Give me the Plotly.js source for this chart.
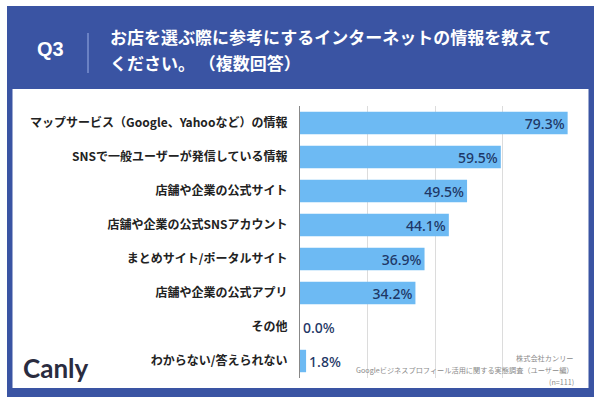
<!DOCTYPE html>
<html><head><meta charset="utf-8">
<script src="https://cdn.plot.ly/plotly-3.0.1.min.js"></script>
<style>html,body{margin:0;padding:0;background:#fff;}#c{width:600px;height:405px;}</style>
</head><body><div id="c"></div>
<script>
const categories = [
  "マップサービス（Google、Yahooなど）の情報",
  "SNSで一般ユーザーが発信している情報",
  "店舗や企業の公式サイト",
  "店舗や企業の公式SNSアカウント",
  "まとめサイト/ポータルサイト",
  "店舗や企業の公式アプリ",
  "その他",
  "わからない/答えられない"
];
const values = [79.3, 59.5, 49.5, 44.1, 36.9, 34.2, 0.0, 1.8];
const titleLines = ["お店を選ぶ際に参考にするインターネットの情報を教えて", "ください。 （複数回答）"];
const sourceLines = ["株式会社カンリー", "Googleビジネスプロフィール活用に関する実態調査（ユーザー編）", "(n=111)"];

const W = 600, H = 405;
const px = x => x / W;
const py = y => 1 - y / H;
const JP = "Noto Sans CJK JP, Noto Sans, sans-serif";
const navy = "#1e3766";

const trace = {
  type: "bar", orientation: "h",
  y: categories, x: values,
  marker: {color: "#6dbaf3", line: {width: 0}},
  texttemplate: "%{x:.1f}%",
  textposition: values.map(v => v < 5 ? "outside" : "inside"),
  insidetextanchor: "end",
  constraintext: "none",
  textfont: {family: "Noto Sans, Liberation Sans, sans-serif", size: 14, color: navy, weight: 500},
  cliponaxis: false,
  hoverinfo: "none",
  width: 0.66
};

function ann(text, x, y, xa, font) {
  return {text: text, x: px(x), y: py(y), xref: "paper", yref: "paper", xanchor: xa, yanchor: "middle",
          showarrow: false, font: font};
}

const annotations = [
  ann("<b>Q3</b>", 50, 49, "center", {family: "Liberation Sans, Arial, sans-serif", size: 20, color: "#fff", weight: 700}),
  ann(titleLines[0], 108, 36, "left", {family: JP, size: 17, color: "#fff", weight: 700}),
  ann(titleLines[1], 108, 62, "left", {family: JP, size: 17, color: "#fff", weight: 700}),
  ann("Canly", 21, 368, "left", {family: "Lato, Inter, sans-serif", size: 26, color: "#2a2c40", weight: 700})
];
sourceLines.forEach((t, i) => {
  annotations.push(ann(t, 576, 358 + i * 12, "right", {family: JP, size: 7.2, color: "#8a8a8a"}));
});

const shapes = [
  {type: "rect", xref: "paper", yref: "paper", x0: px(7), x1: px(594), y0: py(397), y1: py(6),
   fillcolor: "#3a54a3", line: {width: 0}, layer: "below"},
  {type: "rect", xref: "paper", yref: "paper", x0: px(12.5), x1: px(588.5), y0: py(388), y1: py(89),
   fillcolor: "#ffffff", line: {width: 0}, layer: "below"},
  {type: "line", xref: "paper", yref: "paper", x0: px(88), x1: px(88), y0: py(33), y1: py(73),
   line: {color: "#7b90cf", width: 1.5}, layer: "below"}
];

const layout = {
  width: W, height: H,
  margin: {l: 0, r: 0, t: 0, b: 0},
  paper_bgcolor: "#ffffff", plot_bgcolor: "rgba(0,0,0,0)",
  showlegend: false,
  bargap: 0.34,
  xaxis: {domain: [px(300), px(570)], range: [0, 80], tickvals: [0, 20, 40, 60, 80],
          showticklabels: false, showgrid: true, gridcolor: "#dcdcdc", gridwidth: 1,
          zeroline: false, fixedrange: true},
  yaxis: {domain: [py(378), py(106)], categoryorder: "array", categoryarray: categories,
          autorange: "reversed", showgrid: false, zeroline: false,
          showline: true, linecolor: "#888", linewidth: 1.2,
          ticks: "", ticklabelstandoff: 9,
          tickfont: {family: JP, size: 12, color: "#222", weight: 700}, fixedrange: true},
  shapes: shapes,
  annotations: annotations,
  font: {family: JP}
};

Plotly.newPlot("c", [trace], layout, {displayModeBar: false, staticPlot: true});
</script>
</body></html>
